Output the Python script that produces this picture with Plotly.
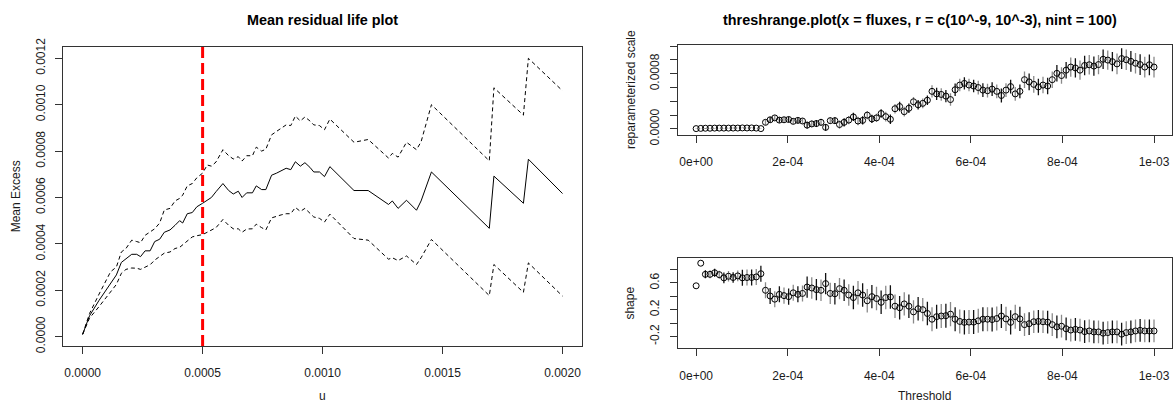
import numpy as np
import plotly.graph_objects as go

# ---------------- Left panel: mean residual life ----------------
u_left = [0.0, 28.8e-6, 68.7e-6, 116.6e-6, 140.6e-6, 161.3e-6, 180.5e-6, 204.5e-6, 225.2e-6, 241.2e-6,
          260.4e-6, 281.2e-6, 300.3e-6, 321.1e-6, 340.3e-6, 364.2e-6, 385.0e-6, 404.2e-6, 416.9e-6, 436.1e-6,
          456.9e-6, 476.0e-6, 500.0e-6, 519.2e-6, 536.7e-6, 555.9e-6, 584.7e-6, 608.6e-6, 627.8e-6, 648.6e-6,
          664.5e-6, 683.7e-6, 707.7e-6, 723.6e-6, 746.0e-6, 763.6e-6, 787.5e-6, 808.3e-6, 827.5e-6, 848.2e-6,
          867.4e-6, 886.6e-6, 907.3e-6, 926.5e-6, 947.3e-6, 963.3e-6, 987.2e-6, 1008.0e-6, 1030.4e-6, 1131.0e-6,
          1190.1e-6, 1274.8e-6, 1290.7e-6, 1314.7e-6, 1349.8e-6, 1391.4e-6, 1410.5e-6, 1453.7e-6, 1694.9e-6,
          1714.1e-6, 1837.1e-6, 1857.8e-6, 2000.0e-6]

mean_excess = [0.00001, 0.00009, 0.000157, 0.000232, 0.000266, 0.00032, 0.000334, 0.000355, 0.000355, 0.000345,
               0.00037, 0.00037, 0.00041, 0.00042, 0.00045, 0.00046, 0.00048, 0.0005, 0.00049, 0.00053,
               0.000535, 0.00056, 0.000575, 0.00059, 0.0006, 0.000625, 0.00066, 0.00063, 0.000615, 0.000627,
               0.0006, 0.00062, 0.00062, 0.00065, 0.000634, 0.000634, 0.000696, 0.000705, 0.000715, 0.000726,
               0.00072, 0.000754, 0.000735, 0.00075, 0.00073, 0.00071, 0.00071, 0.00069, 0.000733, 0.00063,
               0.00063, 0.00057, 0.000585, 0.000553, 0.000588, 0.000545, 0.000585, 0.00071, 0.000467,
               0.000692, 0.000575, 0.000765, 0.000617]

upper_ci = [0.00001, 0.0001, 0.000184, 0.00028, 0.0003, 0.000365, 0.00038, 0.000416, 0.00041, 0.000405,
            0.000437, 0.00045, 0.000465, 0.00049, 0.000546, 0.000553, 0.000585, 0.000596, 0.00061, 0.00065,
            0.00066, 0.000685, 0.000705, 0.00074, 0.000735, 0.000753, 0.000806, 0.00078, 0.000766, 0.000776,
            0.000757, 0.00078, 0.00078, 0.000817, 0.0008, 0.000808, 0.00087, 0.000885, 0.000897, 0.000913,
            0.00091, 0.000951, 0.00093, 0.000947, 0.00093, 0.000913, 0.00091, 0.000892, 0.000938, 0.000838,
            0.00085, 0.00077, 0.00079, 0.000774, 0.000838, 0.000806, 0.00084, 0.001, 0.000758,
            0.001073, 0.000955, 0.0012, 0.00106]

lower_ci = [0.00001, 0.00008, 0.00013, 0.00019, 0.000225, 0.000273, 0.00029, 0.000296, 0.000295, 0.00029,
            0.0003, 0.00031, 0.00033, 0.000345, 0.00036, 0.000365, 0.00038, 0.000385, 0.000396, 0.000416,
            0.00043, 0.000435, 0.00044, 0.00045, 0.00046, 0.00047, 0.000505, 0.00048, 0.000465, 0.000465,
            0.00045, 0.000464, 0.000465, 0.000485, 0.00047, 0.00046, 0.000512, 0.00052, 0.000525, 0.00053,
            0.00053, 0.000557, 0.00054, 0.000553, 0.00053, 0.000516, 0.00051, 0.000494, 0.000528, 0.000423,
            0.000416, 0.000334, 0.00034, 0.000328, 0.000348, 0.000311, 0.00034, 0.000419, 0.000177,
            0.000311, 0.000191, 0.000318, 0.000175]

chosen_u = 0.0005
left_xticks = [0.0, 0.0005, 0.0010, 0.0015, 0.0020]
left_xlabels = ["0.0000", "0.0005", "0.0010", "0.0015", "0.0020"]
left_yticks = [0.0, 0.0002, 0.0004, 0.0006, 0.0008, 0.0010, 0.0012]
left_ylabels = ["0.0000", "0.0002", "0.0004", "0.0006", "0.0008", "0.0010", "0.0012"]

# ---------------- Right panels: threshrange.plot ----------------
r_lo, r_hi, nint = 1e-9, 1e-3, 100
thresholds = np.linspace(r_lo, r_hi, nint)

scale_vals = [0.000005, 0.000008, 0.00001, 0.00001, 0.000012, 0.000012, 0.000012, 0.000012, 0.000013, 0.000013,
              0.000015, 0.000014, 0.000015, 0.000012, 0.000005,
              0.000096, 0.000133, 0.00016, 0.000128, 0.000133, 0.000137, 0.00011, 0.000124, 0.000115, 0.000055,
              0.000073, 0.000078, 0.000096, 0.000023, 0.00012, 0.00012, 0.000064, 0.000096, 0.000128, 0.000174,
              0.000115, 0.000124, 0.0002, 0.000146, 0.00016, 0.000224, 0.000178, 0.00014, 0.000293, 0.000325,
              0.00025, 0.0003, 0.000394, 0.00035, 0.000371, 0.000416,
              0.000545, 0.000508, 0.0005, 0.000476, 0.000426, 0.000568, 0.000636, 0.00066, 0.000636, 0.000622,
              0.0006, 0.000563, 0.000554, 0.000577, 0.000545, 0.000485, 0.000563, 0.000614, 0.000508, 0.000545,
              0.000714, 0.000682, 0.000646, 0.000609, 0.000636, 0.000622, 0.000714, 0.000806, 0.000774, 0.000852,
              0.000897, 0.000884, 0.000852, 0.00092, 0.00093, 0.000911, 0.000933, 0.00101, 0.000998, 0.000975,
              0.000943, 0.00102, 0.001003, 0.00098, 0.000952, 0.000933, 0.000897, 0.00093, 0.000897]

scale_err = [0.000003, 0.000003, 0.000003, 0.000003, 0.000003, 0.000003, 0.000003, 0.000003, 0.000003, 0.000003,
             0.000003, 0.000003, 0.000003, 0.000003, 0.000003,
             0.00004, 0.00004, 0.00004, 0.00004, 0.00004, 0.00004, 0.00004, 0.00004, 0.00004, 0.00005,
             0.00005, 0.00005, 0.00005, 0.00005, 0.00005, 0.00005, 0.00006, 0.00006, 0.00006, 0.00006,
             0.00006, 0.00006, 0.00006, 0.00006, 0.00006, 0.00006, 0.00007, 0.00007, 0.00007, 0.00007,
             0.00007, 0.00007, 0.00007, 0.00007, 0.00007, 0.00007,
             0.00009, 0.00009, 0.00009, 0.00009, 0.00009, 0.00009, 0.00009, 0.00009, 0.00009, 0.00009,
             0.0001, 0.0001, 0.0001, 0.0001, 0.0001, 0.0001, 0.0001, 0.0001, 0.0001, 0.0001,
             0.00012, 0.00012, 0.00012, 0.00012, 0.00012, 0.00012, 0.00012, 0.00012, 0.00012, 0.00012,
             0.00014, 0.00014, 0.00014, 0.00014, 0.00014, 0.00014, 0.00014, 0.00014, 0.00014, 0.00014,
             0.00015, 0.00015, 0.00015, 0.00015, 0.00015, 0.00015, 0.00015, 0.00015, 0.00015]

shape_vals = [0.557, 0.895, 0.729, 0.729, 0.752, 0.724, 0.676, 0.7, 0.681, 0.705,
              0.676, 0.681, 0.681, 0.69, 0.738,
              0.49, 0.405, 0.357, 0.429, 0.41, 0.395, 0.452, 0.429, 0.443, 0.538,
              0.524, 0.5, 0.49, 0.59, 0.443, 0.438, 0.514, 0.49, 0.419, 0.381,
              0.452, 0.419, 0.333, 0.395, 0.367, 0.31, 0.381, 0.39, 0.252, 0.229,
              0.286, 0.252, 0.167, 0.214, 0.2, 0.143,
              0.057, 0.095, 0.105, 0.11, 0.133, 0.057, 0.024, 0.01, 0.014, 0.014,
              0.033, 0.057, 0.057, 0.052, 0.067, 0.105, 0.062, 0.01, 0.095, 0.062,
              -0.024, -0.01, 0.019, 0.024, 0.019, 0.014, -0.024, -0.057, -0.048, -0.086,
              -0.105, -0.095, -0.105, -0.129, -0.119, -0.133, -0.133, -0.152, -0.143, -0.133,
              -0.133, -0.167, -0.143, -0.133, -0.119, -0.11, -0.119, -0.119, -0.119]

shape_err = [0.0, 0.0, 0.06, 0.06, 0.06, 0.06, 0.08, 0.08, 0.08, 0.08,
             0.12, 0.12, 0.12, 0.12, 0.12,
             0.12, 0.12, 0.12, 0.12, 0.12, 0.12, 0.12, 0.12, 0.12, 0.16,
             0.16, 0.16, 0.16, 0.16, 0.16, 0.16, 0.16, 0.16, 0.16, 0.175,
             0.175, 0.175, 0.175, 0.175, 0.175, 0.175, 0.175, 0.175, 0.175, 0.175,
             0.175, 0.175, 0.175, 0.175, 0.175, 0.175,
             0.18, 0.18, 0.18, 0.18, 0.18, 0.18, 0.18, 0.18, 0.18, 0.18,
             0.18, 0.18, 0.18, 0.18, 0.18, 0.18, 0.18, 0.18, 0.18, 0.18,
             0.17, 0.17, 0.17, 0.17, 0.17, 0.17, 0.17, 0.17, 0.17, 0.17,
             0.17, 0.17, 0.17, 0.17, 0.17, 0.17, 0.17, 0.17, 0.17, 0.17,
             0.17, 0.17, 0.17, 0.17, 0.17, 0.17, 0.17, 0.17, 0.17]

right_xticks = [0.0, 0.0002, 0.0004, 0.0006, 0.0008, 0.0010]
right_xlabels = ["0e+00", "2e-04", "4e-04", "6e-04", "8e-04", "1e-03"]
scale_yticks = [0.0, 0.0002, 0.0004, 0.0006, 0.0008, 0.0010, 0.0012]
scale_ylabels = ["0.0000", "", "", "", "0.0008", "", ""]
shape_yticks = [-0.2, 0.0, 0.2, 0.4, 0.6, 0.8]
shape_ylabels = ["-0.2", "", "0.2", "", "0.6", ""]

# ---------------- Figure ----------------
W, H = 1173, 418
FONT = "Liberation Sans, Arial, Helvetica, sans-serif"
TXT = "#1a1a1a"
LINE = "#333333"

def px_x(p):
    return p / W

def px_y(p):
    return 1 - p / H

fig = go.Figure()

fig.add_trace(go.Scatter(x=u_left, y=mean_excess, mode="lines",
                         line=dict(color="black", width=1), xaxis="x", yaxis="y"))
fig.add_trace(go.Scatter(x=u_left, y=upper_ci, mode="lines",
                         line=dict(color="black", width=1, dash="4px,3px"), xaxis="x", yaxis="y"))
fig.add_trace(go.Scatter(x=u_left, y=lower_ci, mode="lines",
                         line=dict(color="black", width=1, dash="4px,3px"), xaxis="x", yaxis="y"))

fig.add_shape(type="line", xref="x", yref="y domain", x0=chosen_u, x1=chosen_u, y0=0, y1=1,
              line=dict(color="red", width=3, dash="11px,5px"))

thr = list(thresholds)
for parity, ecol in ((0, "#111111"), (1, "#8a8a8a")):
    idx = list(range(parity, nint, 2))
    fig.add_trace(go.Scatter(
        x=[thr[i] for i in idx], y=[scale_vals[i] for i in idx], mode="markers",
        marker=dict(symbol="circle-open", size=6, color="black", line=dict(width=1)),
        error_y=dict(type="data", array=[scale_err[i] for i in idx], color=ecol, thickness=1.3, width=0),
        xaxis="x2", yaxis="y2"))
    fig.add_trace(go.Scatter(
        x=[thr[i] for i in idx], y=[shape_vals[i] for i in idx], mode="markers",
        marker=dict(symbol="circle-open", size=6, color="black", line=dict(width=1)),
        error_y=dict(type="data", array=[shape_err[i] for i in idx], color=ecol, thickness=1.3, width=0),
        xaxis="x3", yaxis="y3"))

axis_common = dict(showgrid=False, zeroline=False, showline=True, mirror=True, linecolor=LINE,
                   linewidth=1, ticks="outside", ticklen=7, tickcolor=LINE, tickwidth=1,
                   tickfont=dict(family=FONT, size=12, color=TXT), tickmode="array")

right_dom = [px_x(678.3), 1.0]
right_range = [-0.0000402, 0.0010393]

fig.update_layout(
    width=W, height=H, margin=dict(l=0, r=0, t=0, b=0),
    paper_bgcolor="white", plot_bgcolor="white", showlegend=False,
    font=dict(family=FONT, size=12, color=TXT),
    xaxis=dict(domain=[px_x(63.5), px_x(582.2)], range=[-0.00008, 0.00208], anchor="y",
               tickvals=left_xticks, ticktext=left_xlabels, ticklabelstandoff=9, **axis_common),
    yaxis=dict(domain=[px_y(354), px_y(40.7)], range=[-0.0000399, 0.0012494], anchor="x",
               tickvals=left_yticks, ticktext=left_ylabels, tickangle=-90, ticklabelstandoff=6,
               **axis_common),
    xaxis2=dict(domain=right_dom, range=right_range, anchor="y2",
                tickvals=right_xticks, ticktext=right_xlabels, ticklabelstandoff=9, **axis_common),
    yaxis2=dict(domain=[px_y(132.7), px_y(38.3)], range=[-0.000083, 0.001223], anchor="x2",
                tickvals=scale_yticks, ticktext=scale_ylabels, tickangle=-90, ticklabelstandoff=6,
                **axis_common),
    xaxis3=dict(domain=right_dom, range=right_range, anchor="y3",
                tickvals=right_xticks, ticktext=right_xlabels, ticklabelstandoff=9, **axis_common),
    yaxis3=dict(domain=[px_y(356.7), px_y(261.7)], range=[-0.381, 0.976], anchor="x3",
                tickvals=shape_yticks, ticktext=shape_ylabels, tickangle=-90, ticklabelstandoff=6,
                **axis_common),
)

def ann(text, x, y, size=12, angle=0, bold=False):
    fig.add_annotation(text=f"<b>{text}</b>" if bold else text, x=px_x(x), y=px_y(y),
                       xref="paper", yref="paper", showarrow=False, xanchor="center", yanchor="middle",
                       textangle=angle, font=dict(family=FONT, size=size, color="black" if bold else TXT))

ann("Mean residual life plot", 322.9, 12.5, size=14.4, bold=True)
ann("threshrange.plot(x = fluxes, r = c(10^-9, 10^-3), nint = 100)", 921, 12.5, size=14.4, bold=True)
ann("Mean Excess", 16, 197.3, angle=-90)
ann("u", 322.9, 406)
ann("reparameterized scale", 631, 85.5, angle=-90)
ann("shape", 631, 309.2, angle=-90)
ann("Threshold", 925, 406)

# Put the figure flush with the window's top-left corner (no default body margin / scrollbars).
page_css = ("document.documentElement.style.margin='0';document.body.style.margin='0';"
            "document.documentElement.style.overflow='hidden';document.body.style.overflow='hidden';")

fig.write_html("out.html", post_script=page_css, config={"displayModeBar": False})
